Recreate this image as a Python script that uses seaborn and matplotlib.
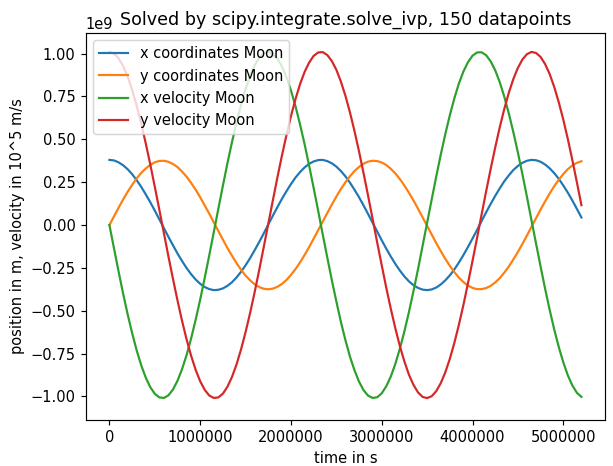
import matplotlib
matplotlib.use("Agg")
import matplotlib.pyplot as plt
from matplotlib.ticker import MultipleLocator
import seaborn as sns
import numpy as np

# sample times: every 50000 s from 0 to 5.2e6 s
time_s = [i * 50000 for i in range(105)]

# values in units of 1e9
x_coord = [0.380, 0.377, 0.366, 0.349, 0.326, 0.297, 0.262, 0.223, 0.179, 0.133,
           0.084, 0.033, -0.018, -0.069, -0.118, -0.166, -0.210, -0.251, -0.287, -0.318,
           -0.343, -0.362, -0.374, -0.380, -0.378, -0.370, -0.355, -0.334, -0.306, -0.273,
           -0.235, -0.193, -0.147, -0.099, -0.049, 0.003, 0.054, 0.104, 0.152, 0.197,
           0.239, 0.277, 0.309, 0.336, 0.357, 0.371, 0.379, 0.380, 0.373, 0.360,
           0.341, 0.315, 0.284, 0.247, 0.206, 0.162, 0.114, 0.064, 0.013, -0.038,
           -0.089, -0.138, -0.184, -0.227, -0.266, -0.300, -0.329, -0.351, -0.367, -0.377,
           -0.380, -0.376, -0.365, -0.347, -0.323, -0.294, -0.259, -0.219, -0.175, -0.128,
           -0.079, -0.029, 0.023, 0.074, 0.123, 0.170, 0.214, 0.255, 0.290, 0.321,
           0.345, 0.363, 0.375, 0.380, 0.378, 0.369, 0.353, 0.331, 0.303, 0.270,
           0.231, 0.189, 0.143, 0.094, 0.044]
y_coord = [0.000, 0.050, 0.100, 0.148, 0.193, 0.234, 0.272, 0.304, 0.330, 0.351,
           0.366, 0.374, 0.375, 0.369, 0.356, 0.338, 0.312, 0.282, 0.246, 0.206,
           0.162, 0.114, 0.066, 0.015, -0.035, -0.085, -0.134, -0.179, -0.222, -0.261,
           -0.295, -0.323, -0.346, -0.362, -0.372, -0.375, -0.371, -0.361, -0.344, -0.321,
           -0.291, -0.257, -0.218, -0.175, -0.129, -0.080, -0.030, 0.020, 0.070, 0.119,
           0.166, 0.210, 0.249, 0.285, 0.315, 0.339, 0.358, 0.370, 0.375, 0.373,
           0.365, 0.350, 0.328, 0.301, 0.268, 0.230, 0.188, 0.143, 0.095, 0.045,
           -0.005, -0.055, -0.105, -0.152, -0.197, -0.238, -0.275, -0.307, -0.333, -0.353,
           -0.367, -0.374, -0.374, -0.368, -0.355, -0.335, -0.310, -0.278, -0.242, -0.201,
           -0.157, -0.110, -0.061, -0.010, 0.040, 0.090, 0.138, 0.184, 0.226, 0.264,
           0.297, 0.326, 0.348, 0.363, 0.372]
x_vel = [0.000, -0.135, -0.269, -0.398, -0.519, -0.630, -0.731, -0.818, -0.890, -0.946,
         -0.985, -1.006, -1.009, -0.994, -0.960, -0.909, -0.841, -0.759, -0.662, -0.553,
         -0.435, -0.308, -0.177, -0.041, 0.095, 0.229, 0.360, 0.483, 0.598, 0.702,
         0.794, 0.870, 0.931, 0.976, 1.002, 1.010, 1.000, 0.972, 0.926, 0.864,
         0.785, 0.693, 0.587, 0.472, 0.347, 0.216, 0.082, -0.055, -0.189, -0.321,
         -0.446, -0.565, -0.672, -0.768, -0.848, -0.914, -0.964, -0.996, -1.009, -1.005,
         -0.982, -0.941, -0.884, -0.810, -0.721, -0.620, -0.507, -0.385, -0.257, -0.122,
         0.013, 0.148, 0.282, 0.410, 0.530, 0.640, 0.739, 0.826, 0.896, 0.950,
         0.988, 1.007, 1.008, 0.991, 0.955, 0.903, 0.834, 0.749, 0.651, 0.542,
         0.423, 0.296, 0.164, 0.027, -0.108, -0.242, -0.372, -0.495, -0.609, -0.711,
         -0.801, -0.877, -0.936, -0.979, -1.003]
y_vel = [1.010, 1.001, 0.974, 0.928, 0.867, 0.789, 0.697, 0.593, 0.477, 0.354,
         0.223, 0.089, -0.047, -0.183, -0.314, -0.440, -0.559, -0.667, -0.763, -0.845,
         -0.912, -0.962, -0.995, -1.009, -1.006, -0.984, -0.944, -0.887, -0.814, -0.726,
         -0.625, -0.513, -0.392, -0.263, -0.129, 0.007, 0.142, 0.276, 0.404, 0.524,
         0.635, 0.735, 0.822, 0.893, 0.948, 0.987, 1.007, 1.009, 0.992, 0.957,
         0.906, 0.837, 0.754, 0.657, 0.548, 0.429, 0.302, 0.170, 0.034, -0.102,
         -0.235, -0.366, -0.489, -0.603, -0.707, -0.797, -0.874, -0.933, -0.977, -1.003,
         -1.010, -0.999, -0.970, -0.923, -0.860, -0.781, -0.688, -0.582, -0.466, -0.340,
         -0.210, -0.076, 0.061, 0.196, 0.327, 0.452, 0.570, 0.677, 0.772, 0.852,
         0.917, 0.966, 0.997, 1.010, 1.004, 0.981, 0.939, 0.881, 0.806, 0.717,
         0.615, 0.502, 0.379, 0.249, 0.116]

labels = ["x coordinates Moon", "y coordinates Moon", "x velocity Moon", "y velocity Moon"]
colors = ["#1f77b4", "#ff7f0e", "#2ca02c", "#d62728"]

DPI = 105
t = np.array(time_s, dtype=float)
fig, ax = plt.subplots(figsize=(613 / DPI, 466 / DPI), dpi=DPI)
for vals, lab, col in zip([x_coord, y_coord, x_vel, y_vel], labels, colors):
    sns.lineplot(x=t, y=np.array(vals) * 1e9, label=lab, color=col, ax=ax, linewidth=1.5)

ax.ticklabel_format(axis="x", style="plain")
ax.set_ylim(-1.137e9, 1.12e9)
ax.yaxis.set_major_locator(MultipleLocator(0.25e9))
ax.set_title("Solved by scipy.integrate.solve_ivp, 150 datapoints", y=1.0, pad=6)
ax.set_xlabel("time in s")
ax.set_ylabel("position in m, velocity in 10^5 m/s")
ax.legend(loc="upper left")
fig.subplots_adjust(left=0.140, right=0.987, top=0.929, bottom=0.099)
fig.savefig("out.png", dpi=DPI)
